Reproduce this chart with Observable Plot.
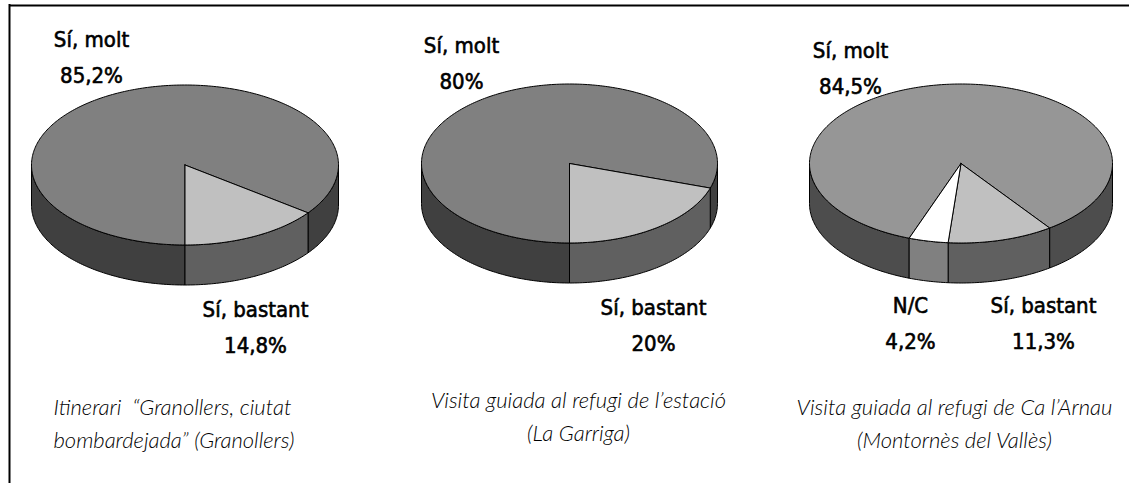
<!DOCTYPE html>
<html><head><meta charset="utf-8">
<script src="https://cdn.jsdelivr.net/npm/d3@7"></script>
<script src="https://cdn.jsdelivr.net/npm/@observablehq/plot@0.6"></script>
<style>body{margin:0;background:#fff}#chart svg{display:block}</style>
</head><body><div id="chart"></div>
<script>
// ---- data ----
const pieNames = ["Granollers", "La Garriga", "Montornès del Vallès"];
const categories = ["Sí, molt", "Sí, bastant", "N/C"];
const granollersValues = [85.2, 14.8, 0];
const laGarrigaValues = [80, 20, 0];
const montornesValues = [84.5, 11.3, 4.2];
const captions = [
  "Itinerari\u00a0 “Granollers, ciutat\nbombardejada” (Granollers)",
  "Visita guiada al refugi de l’estació\n(La Garriga)",
  "Visita guiada al refugi de Ca l’Arnau\n(Montornès del Vallès)"
];
const seriesValues = [granollersValues, laGarrigaValues, montornesValues];

// ---- layout / style ----
const W = 1129, H = 483;
const layout = [
  {cx: 184.5, cy: 164.5, rx: 153.5, ry: 80, depth: 40, start: 180,
   top: ["#808080", "#c0c0c0", "#ffffff"], side: ["#404040", "#606060", "#808080"],
   labels: [[91, 82.5], [255, 352.5], null],
   caption: [53, 447, "start"]},
  {cx: 569, cy: 163, rx: 148, ry: 79.5, depth: 40, start: 180,
   top: ["#808080", "#c0c0c0", "#ffffff"], side: ["#404040", "#606060", "#808080"],
   labels: [[461, 88], [653, 350], null],
   caption: [578, 440, "middle"]},
  {cx: 960.5, cy: 163, rx: 151.5, ry: 79.5, depth: 40, start: 200,
   top: ["#969696", "#c0c0c0", "#ffffff"], side: ["#4d4d4d", "#606060", "#808080"],
   labels: [[850, 93], [1043, 348], [910, 348]],
   caption: [954, 447, "middle"]}
];

const rad = Math.PI / 180;
function pt(L, a, dz = 0) {
  return {x: L.cx + L.rx * Math.sin(a * rad), y: L.cy - L.ry * Math.cos(a * rad) + dz};
}
function arc(L, a0, a1, dz) {
  const n = Math.max(2, Math.ceil(Math.abs(a1 - a0)));
  const out = [];
  for (let i = 0; i <= n; i++) out.push(pt(L, a0 + (a1 - a0) * i / n, dz));
  return out;
}

const tops = [], sides = [], labels = [];
seriesValues.forEach((vals, p) => {
  const L = layout[p];
  let cum = 0;
  vals.forEach((v, c) => {
    if (!v) return;
    const a0 = L.start + 360 * cum / 100;
    cum += v;
    const a1 = L.start + 360 * cum / 100;
    const id = `${p}-${c}`;
    const poly = [{x: L.cx, y: L.cy}, ...arc(L, a0, a1, 0)];
    poly.push(poly[0]);
    poly.forEach(q => tops.push({...q, id, color: L.top[c]}));
    [[90, 270], [450, 630]].forEach(([f0, f1], k) => {
      const s0 = Math.max(a0, f0), s1 = Math.min(a1, f1);
      if (s1 <= s0) return;
      const sid = `${id}-${k}`;
      const sp = [...arc(L, s0, s1, 0), ...arc(L, s1, s0, L.depth)];
      sp.push(sp[0]);
      sp.forEach(q => sides.push({...q, id: sid, color: L.side[c]}));
    });
    if (L.labels[c]) {
      const [x, y] = L.labels[c];
      labels.push({x, y, text: categories[c] + "\n" + String(v).replace(".", ",") + "%"});
    }
  });
});
const captionData = captions.map((t, i) => ({x: layout[i].caption[0], y: layout[i].caption[1], anchor: layout[i].caption[2], text: t, pie: pieNames[i]}));

const labelFont = "'DejaVu Sans Condensed', 'DejaVu Sans', sans-serif";
const captionFont = "Lato, 'Liberation Sans', sans-serif";
const labelSize = 22, captionSize = 22;

const chart = Plot.plot({
  width: W, height: H, margin: 0,
  x: {domain: [0, W], range: [0, W], axis: null},
  y: {domain: [0, H], range: [0, H], axis: null},
  color: {type: "identity"},
  style: {fontStretch: "condensed"},
  marks: [
    Plot.ruleY([5], {x1: 9, x2: W, stroke: "#000", strokeWidth: 2}),
    Plot.ruleX([9], {y1: 4, y2: H, stroke: "#000", strokeWidth: 2}),
    Plot.line(sides, {x: "x", y: "y", z: "id", fill: "color", stroke: "#000", strokeWidth: 1, strokeLinejoin: "round", curve: "linear"}),
    Plot.line(tops, {x: "x", y: "y", z: "id", fill: "color", stroke: "#000", strokeWidth: 1, strokeLinejoin: "round", curve: "linear"}),
    Plot.text(labels, {x: "x", y: "y", text: "text", textAnchor: "middle", lineAnchor: "bottom", lineHeight: 36 / labelSize, fontSize: labelSize, fontFamily: labelFont, fill: "#000", stroke: "#000", strokeWidth: 0.6}),
    Plot.text(captionData.filter(d => d.anchor === "start"), {x: "x", y: "y", text: "text", textAnchor: "start", lineAnchor: "bottom", lineHeight: 33 / captionSize, fontSize: captionSize, fontStyle: "italic", fontWeight: 300, fontFamily: captionFont, fill: "#000"}),
    Plot.text(captionData.filter(d => d.anchor === "middle"), {x: "x", y: "y", text: "text", textAnchor: "middle", lineAnchor: "bottom", lineHeight: 33 / captionSize, fontSize: captionSize, fontStyle: "italic", fontWeight: 300, fontFamily: captionFont, fill: "#000"})
  ]
});
document.getElementById("chart").appendChild(chart);
</script>
</body></html>
